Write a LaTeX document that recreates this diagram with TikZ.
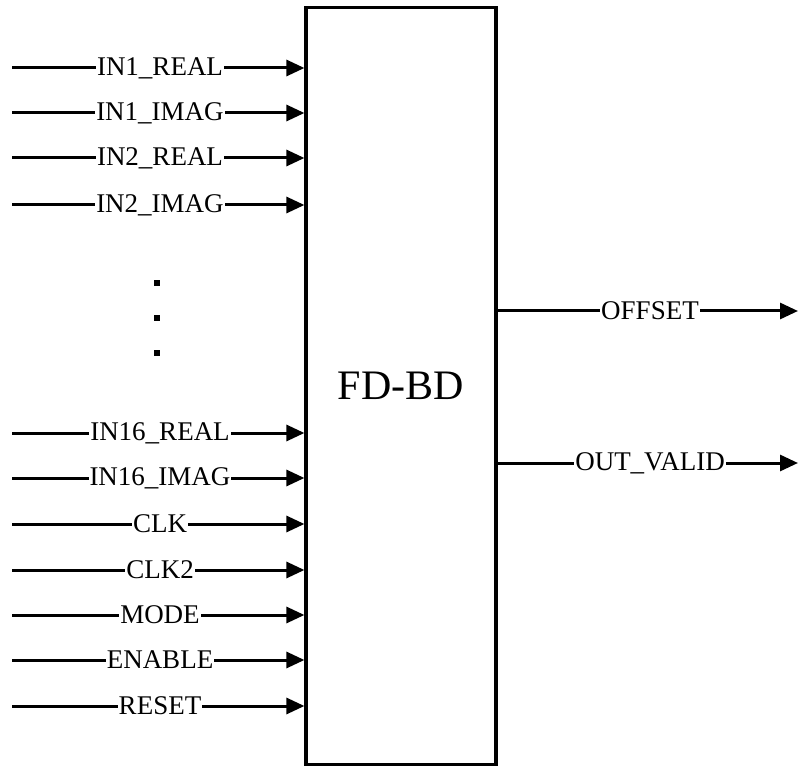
\documentclass[tikz,border=0pt]{standalone}
\usepackage{fontspec}
\setmainfont{Liberation Serif}
\usetikzlibrary{arrows.meta}

\tikzset{
    sig/.style={line width=3pt, -{Triangle[length=18pt,width=16pt]}},
    siglabel/.style={fill=white, inner xsep=1pt, inner ysep=0pt, font=\fontsize{27}{30}\selectfont},
    blockbox/.style={draw, line width=3.2pt, minimum width=190pt, minimum height=757pt, font=\fontsize{42}{46}\selectfont}
}

\begin{document}
\begin{tikzpicture}[x=1pt, y=-1pt]
    \useasboundingbox (0,0) rectangle (798,767);

    % Main block
    \node[blockbox] (fdbd) at (401,386) {FD-BD};

    % Inputs
    \foreach \name/\lbl/\y in {i1r/IN1\_REAL/68, i1i/IN1\_IMAG/113, i2r/IN2\_REAL/158, i2i/IN2\_IMAG/205,
        i16r/IN16\_REAL/433, i16i/IN16\_IMAG/478, clk/CLK/524, clktwo/CLK2/570,
        mode/MODE/615, en/ENABLE/660, rst/RESET/706} {
        \coordinate (\name) at (12,\y);
        \draw[sig] (\name) -- (fdbd.west |- \name);
        \node[siglabel] (\name-lbl) at (160,\y) {\lbl};
    }

    % Dots
    \foreach \y in {283,318,353}
        \fill (154,\y-3) rectangle ++(6,6);

    % Outputs
    \foreach \name/\lbl/\y in {ofs/OFFSET/311, ov/OUT\_VALID/463} {
        \coordinate (\name) at (798,\y);
        \draw[sig] (fdbd.east |- \name) -- (\name);
        \node[siglabel] (\name-lbl) at (650,\y) {\lbl};
    }
\end{tikzpicture}
\end{document}
